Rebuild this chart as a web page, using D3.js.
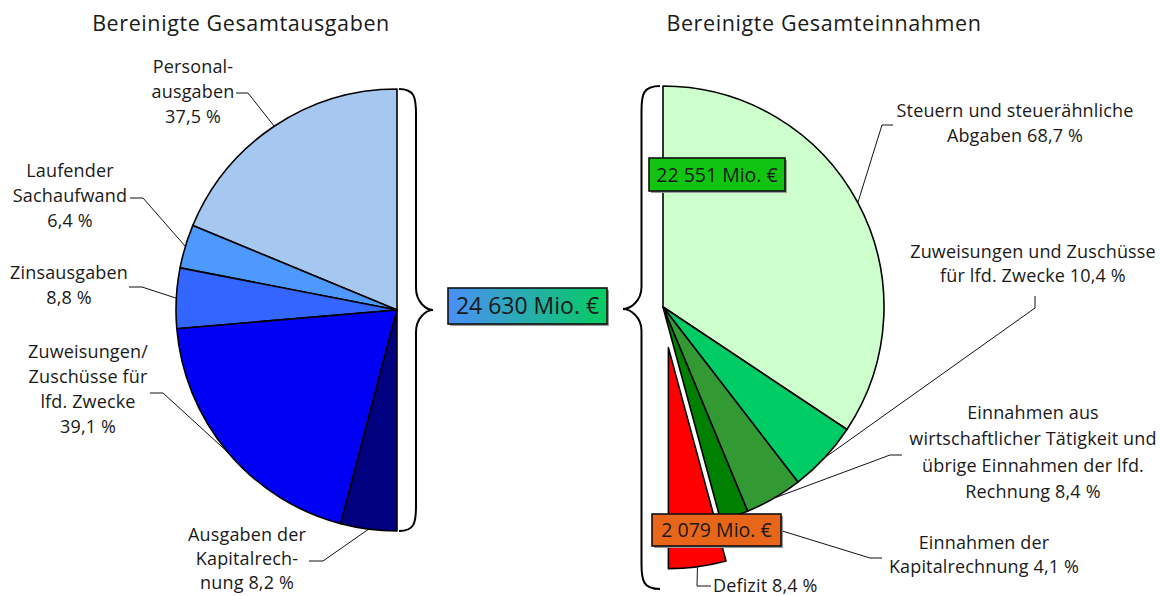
<!DOCTYPE html>
<html><head><meta charset="utf-8">
<script src="https://cdn.jsdelivr.net/npm/d3@7"></script>
<style>
html,body{margin:0;padding:0;background:#fff;}
svg text{font-family:"Open Sans","Noto Sans",sans-serif;fill:#1a1a1a;}
</style></head>
<body><svg id="c" width="1160" height="596"></svg>
<script>
// ---- data ----
const titles = ["Bereinigte Gesamtausgaben", "Bereinigte Gesamteinnahmen"];
const expCategories = ["Personalausgaben", "Laufender Sachaufwand", "Zinsausgaben", "Zuweisungen/Zuschüsse für lfd. Zwecke", "Ausgaben der Kapitalrechnung"];
const expShares = [37.5, 6.4, 8.8, 39.1, 8.2];
const expLabels = [["Personal-", "ausgaben", "37,5 %"], ["Laufender", "Sachaufwand", "6,4 %"], ["Zinsausgaben", "8,8 %"], ["Zuweisungen/", "Zuschüsse für", "lfd. Zwecke", "39,1 %"], ["Ausgaben der", "Kapitalrech-", "nung 8,2 %"]];
const incCategories = ["Steuern und steuerähnliche Abgaben", "Zuweisungen und Zuschüsse für lfd. Zwecke", "Einnahmen aus wirtschaftlicher Tätigkeit und übrige Einnahmen der lfd. Rechnung", "Einnahmen der Kapitalrechnung", "Defizit"];
const incShares = [68.7, 10.4, 8.4, 4.1, 8.4];
const incLabels = [["Steuern und steuerähnliche", "Abgaben 68,7 %"], ["Zuweisungen und Zuschüsse", "für lfd. Zwecke 10,4 %"], ["Einnahmen aus", "wirtschaftlicher Tätigkeit und", "übrige Einnahmen der lfd.", "Rechnung 8,4 %"], ["Einnahmen der", "Kapitalrechnung 4,1 %"], ["Defizit 8,4 %"]];
const totalLabels = ["24 630 Mio. €", "22 551 Mio. €", "2 079 Mio. €"];

// ---- styles / layout ----
const expColors = ["#a6c8f0", "#4d99ff", "#3366ff", "#0000f5", "#000080"];
const incColors = ["#ccffcc", "#00cc66", "#339933", "#008000", "#ff0000"];
const R = 221;
const L = {cx: 397, cy: 310};
const Rt = {cx: 663, cy: 307};
const explode = 41;

const svg = d3.select("#c");
const defs = svg.append("defs");
const grad = defs.append("linearGradient").attr("id", "g1").attr("x1", "0").attr("x2", "1").attr("y1", "0").attr("y2", "0");
grad.append("stop").attr("offset", "0").attr("stop-color", "#4a8ff8");
grad.append("stop").attr("offset", "1").attr("stop-color", "#05cc60");

// titles
svg.append("text").attr("x", 241).attr("y", 31).attr("text-anchor", "middle").attr("font-size", 21.5).attr("letter-spacing", 0.6).text(titles[0]);
svg.append("text").attr("x", 824).attr("y", 31).attr("text-anchor", "middle").attr("font-size", 21.5).attr("letter-spacing", 0.6).text(titles[1]);

const arc = d3.arc().innerRadius(0).outerRadius(R);
const pt = (c, a, r) => [c.cx + r * Math.sin(a), c.cy - r * Math.cos(a)];
const mid = d => (d.startAngle + d.endAngle) / 2;

// left pie
const leftPie = d3.pie().sort(null).value(d => d).startAngle(0).endAngle(-Math.PI)(expShares);
const gl = svg.append("g").attr("transform", `translate(${L.cx},${L.cy})`);
gl.selectAll("path").data(leftPie).join("path")
  .attr("d", arc).attr("fill", (d, i) => expColors[i])
  .attr("stroke", "#000").attr("stroke-width", 1.6).attr("stroke-linejoin", "round");

// right pie
const rightPie = d3.pie().sort(null).value(d => d).startAngle(0).endAngle(Math.PI)(incShares);
const gr = svg.append("g").attr("transform", `translate(${Rt.cx},${Rt.cy})`);
gr.selectAll("path").data(rightPie).join("path")
  .attr("d", arc).attr("fill", (d, i) => incColors[i])
  .attr("transform", (d, i) => {
    if (i !== incShares.length - 1) return null;
    const a = mid(d);
    return `translate(${explode * Math.sin(a)},${-explode * Math.cos(a)})`;
  })
  .attr("stroke", "#000").attr("stroke-width", 1.6).attr("stroke-linejoin", "round");

// labels layout
const expLayout = [
  {x: 193, y: 73, lh: 25, from: [236, 93], elbow: [248, 93]},
  {x: 70, y: 177, lh: 25, from: [130, 198], elbow: [143, 198]},
  {x: 69, y: 279, lh: 25, from: [129, 287], elbow: [142, 287]},
  {x: 88, y: 358, lh: 25, from: [150, 393], elbow: [163, 393]},
  {x: 247, y: 541, lh: 24, from: [309, 561], elbow: [323, 561]}
];
const incLayout = [
  {x: 1015, y: 117, lh: 25, from: [893, 125], elbow: [882, 125]},
  {x: 1033, y: 258, lh: 24, from: [1035, 296], elbow: [1035, 308]},
  {x: 1033, y: 419, lh: 26.3, from: [902, 455], elbow: [890, 455]},
  {x: 984, y: 549, lh: 24, from: [882, 558], elbow: [870, 558]},
  {x: 713, y: 592, lh: 24, anchor: "start", from: [711, 586], elbow: [697, 586]}
];

const line = d3.line();
function drawLabels(pie, c, labels, layout, exIdx) {
  pie.forEach((d, i) => {
    const lay = layout[i];
    const a = mid(d);
    let p = pt(c, a, R);
    if (i === exIdx) p = [p[0] + explode * Math.sin(a), p[1] - explode * Math.cos(a)];
    svg.append("path").attr("d", line([lay.from, lay.elbow, p]))
      .attr("fill", "none").attr("stroke", "#111").attr("stroke-width", 1);
    const t = svg.append("text").attr("font-size", 18).attr("letter-spacing", 0.15).attr("text-anchor", lay.anchor || "middle");
    labels[i].forEach((s, k) => {
      t.append("tspan").attr("x", lay.x).attr("y", lay.y + k * lay.lh).text(s);
    });
  });
}
drawLabels(leftPie, L, expLabels, expLayout, -1);
drawLabels(rightPie, Rt, incLabels, incLayout, incShares.length - 1);

// braces
function brace(x0, y0, y1, tipX, tipY) {
  const w = (tipX - x0);
  const vx = x0 + w * 0.5;
  const p = d3.path();
  p.moveTo(x0, y0);
  p.bezierCurveTo(x0 + w * 0.45, y0, vx, y0 + 8, vx, y0 + 25);
  p.lineTo(vx, tipY - 22);
  p.bezierCurveTo(vx, tipY - 8, x0 + w * 0.8, tipY, tipX, tipY);
  p.bezierCurveTo(x0 + w * 0.8, tipY, vx, tipY + 8, vx, tipY + 22);
  p.lineTo(vx, y1 - 25);
  p.bezierCurveTo(vx, y1 - 8, x0 + w * 0.45, y1, x0, y1);
  svg.append("path").attr("d", p.toString()).attr("fill", "none").attr("stroke", "#000").attr("stroke-width", 2);
}
brace(L.cx + 2, L.cy - R, L.cy + R, L.cx + 36, L.cy);
brace(Rt.cx - 3, Rt.cy - R, Rt.cy + R + explode + 20, Rt.cx - 40, Rt.cy + 2);

// boxes
function box(x, y, w, h, fill, text, fs) {
  svg.append("rect").attr("x", x + 2).attr("y", y + 2).attr("width", w).attr("height", h).attr("fill", "#9a9a9a");
  svg.append("rect").attr("x", x).attr("y", y).attr("width", w).attr("height", h)
    .attr("fill", fill).attr("stroke", "#111").attr("stroke-width", 1.6);
  svg.append("text").attr("x", x + w / 2).attr("y", y + h / 2 + fs * 0.36)
    .attr("text-anchor", "middle").attr("font-size", fs).attr("fill", "#000").text(text);
}
box(448, 288, 159, 36, "url(#g1)", totalLabels[0], 23);
box(649, 158, 136, 33, "#11c411", totalLabels[1], 19.5);
box(652, 514, 129, 32, "#e8661a", totalLabels[2], 19.5);
</script></body></html>
